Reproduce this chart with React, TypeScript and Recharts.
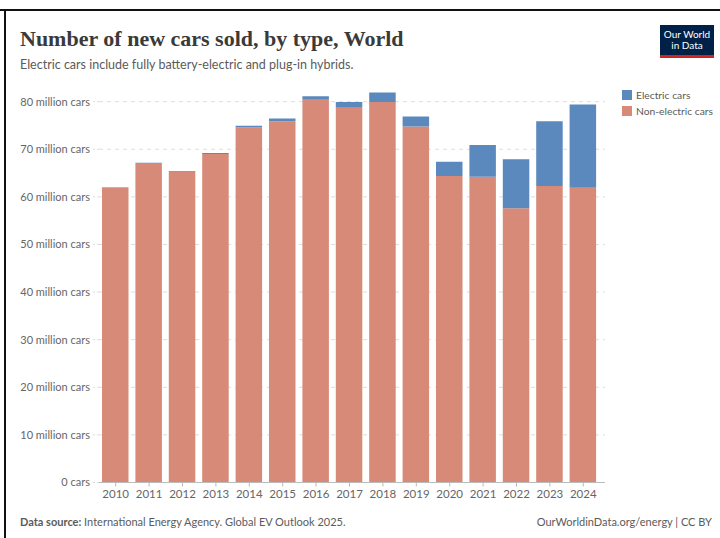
import { BarChart, Bar, XAxis, YAxis, CartesianGrid } from "recharts";

const years = ["2010", "2011", "2012", "2013", "2014", "2015", "2016", "2017", "2018", "2019", "2020", "2021", "2022", "2023", "2024"];
const nonElectric = [62.0, 67.1, 65.3, 69.0, 74.6, 75.9, 80.4, 78.7, 79.9, 74.8, 64.4, 64.2, 57.6, 62.3, 61.9];
const electric = [0.02, 0.05, 0.12, 0.2, 0.32, 0.55, 0.75, 1.2, 2.0, 2.1, 2.95, 6.7, 10.3, 13.6, 17.5];
const yTicks = [0, 10, 20, 30, 40, 50, 60, 70, 80];

const data = years.map((year, i) => ({
  year,
  nonElectric: nonElectric[i],
  electric: electric[i],
}));

const BLUE = "#5b89bd";
const SALMON = "#d68a77";
const GREY = "#666";
const FONT = "Lato, 'Noto Sans', sans-serif";

const yLabel = (v: number) => (v === 0 ? "0 cars" : `${v} million cars`);

const legendItems = [
  { label: "Electric cars", color: BLUE },
  { label: "Non-electric cars", color: SALMON },
];

export default function App() {
  return (
    <div style={{ position: "absolute", left: 0, top: 0, width: 720, height: 538, background: "#fff", overflow: "hidden" }}>
      <div style={{ position: "absolute", left: 0, top: 9, width: 720, height: 2, background: "#111" }} />
      <div style={{ position: "absolute", left: 4, top: 9, width: 2, height: 529, background: "#111" }} />

      <div
        style={{
          position: "absolute",
          left: 20,
          top: 26,
          fontFamily: "'Liberation Serif', 'DejaVu Serif', serif",
          fontWeight: 700,
          fontSize: 22,
          color: "#3a3a3a",
          whiteSpace: "nowrap",
        }}
      >
        Number of new cars sold, by type, World
      </div>
      <div
        style={{
          position: "absolute",
          left: 20,
          top: 57,
          fontFamily: FONT,
          fontSize: 12.5,
          color: "#5b5b5b",
          whiteSpace: "nowrap",
        }}
      >
        Electric cars include fully battery-electric and plug-in hybrids.
      </div>

      <div
        style={{
          position: "absolute",
          left: 660,
          top: 25,
          width: 54,
          height: 30,
          background: "#002147",
          borderBottom: "3px solid #ce261e",
          color: "#fff",
          fontFamily: FONT,
          fontSize: 10,
          lineHeight: "11px",
          textAlign: "center",
          display: "flex",
          flexDirection: "column",
          justifyContent: "center",
        }}
      >
        <div>Our World</div>
        <div>in Data</div>
      </div>

      <div style={{ position: "absolute", left: 622, top: 87, fontFamily: FONT, fontSize: 10.3, color: "#5b5b5b" }}>
        {legendItems.map((it) => (
          <div key={it.label} style={{ display: "flex", alignItems: "center", height: 16, whiteSpace: "nowrap" }}>
            <span style={{ width: 10, height: 10, background: it.color, marginRight: 4, display: "inline-block" }} />
            {it.label}
          </div>
        ))}
      </div>

      <div style={{ position: "absolute", left: 0, top: 0 }}>
        <BarChart
          width={720}
          height={538}
          data={data}
          margin={{ top: 82.6, right: 115, bottom: 25.5, left: 0 }}
          barSize={26.5}
        >
          <CartesianGrid
            vertical={false}
            stroke="#dddddd"
            strokeDasharray="4 4"
            horizontalValues={yTicks}
          />
          <YAxis
            width={99}
            domain={[0, 84]}
            ticks={yTicks}
            tickFormatter={yLabel}
            axisLine={false}
            tickSize={6}
            tickMargin={3}
            tickLine={{ stroke: "#dddddd", strokeDasharray: "2 2" }}
            tick={{ fill: GREY, fontSize: 11, fontFamily: FONT }}
            allowDataOverflow
          />
          <XAxis
            dataKey="year"
            height={30}
            padding={{ left: 0, right: 5 }}
            axisLine={{ stroke: "#bbbbbb" }}
            tickLine={{ stroke: "#bbbbbb" }}
            tickSize={4}
            tickMargin={3}
            interval={0}
            tick={{ fill: GREY, fontSize: 11.5, fontFamily: FONT }}
          />
          <Bar dataKey="nonElectric" stackId="a" fill={SALMON} isAnimationActive={false} />
          <Bar dataKey="electric" stackId="a" fill={BLUE} isAnimationActive={false} />
        </BarChart>
      </div>

      <div
        style={{
          position: "absolute",
          left: 20,
          top: 515,
          fontFamily: FONT,
          fontSize: 11,
          color: "#5b5b5b",
          whiteSpace: "nowrap",
        }}
      >
        <b>Data source:</b> International Energy Agency. Global EV Outlook 2025.
      </div>
      <div
        style={{
          position: "absolute",
          right: 8,
          top: 515,
          fontFamily: FONT,
          fontSize: 11,
          color: "#5b5b5b",
          whiteSpace: "nowrap",
        }}
      >
        OurWorldinData.org/energy | CC BY
      </div>
    </div>
  );
}
